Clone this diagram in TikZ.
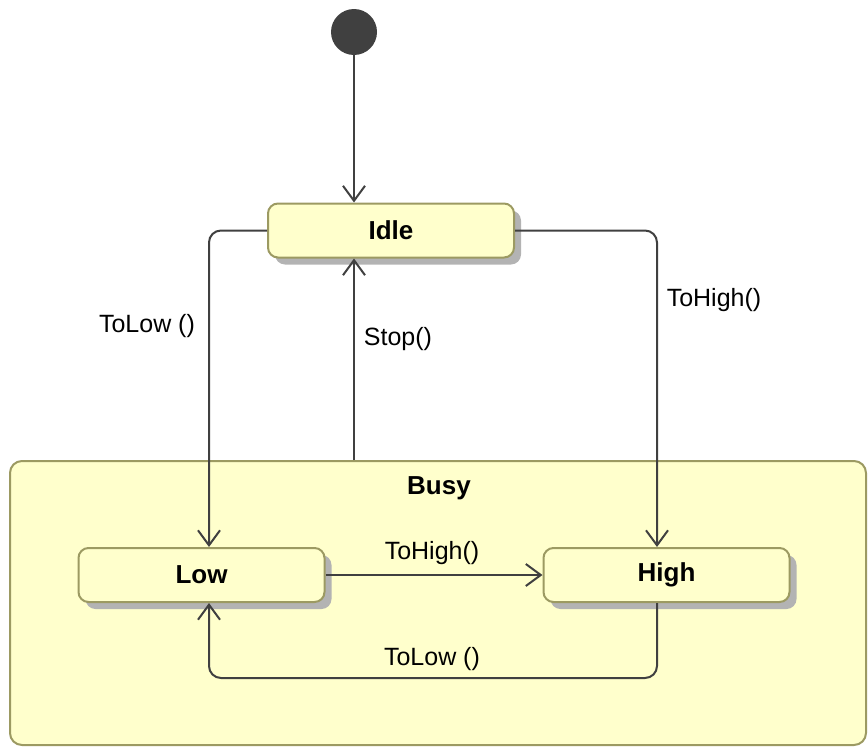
\documentclass[tikz,border=0pt]{standalone}
\usepackage{fontspec}
\setmainfont{Liberation Sans}
\usetikzlibrary{arrows.meta,shadows,calc}
\definecolor{stfill}{HTML}{FFFFCC}
\definecolor{stdraw}{HTML}{9C9A62}
\definecolor{lnc}{HTML}{404040}
\definecolor{shd}{HTML}{B3B3B3}
\tikzset{
  statebox/.style={draw=stdraw, line width=2pt, fill=stfill, rounded corners=10pt,
    minimum width=246pt, minimum height=54pt, inner sep=0pt,
    font=\fontsize{26}{30}\selectfont\bfseries,
    drop shadow={shadow xshift=7pt, shadow yshift=-7pt, fill=shd, opacity=1}},
  arr/.style={draw=lnc, line width=2pt, rounded corners=12pt,
    -{Straight Barb[length=15pt,width=22pt,line width=2pt]}},
  lbl/.style={font=\fontsize{25}{29}\selectfont, inner sep=0pt}
}
\begin{document}
\begin{tikzpicture}[x=1pt,y=-1pt]
\useasboundingbox (0,0) rectangle (868,747);
% Busy composite state
\node[draw=stdraw, line width=2pt, fill=stfill, rounded corners=12pt,
  minimum width=856pt, minimum height=284pt, inner sep=0pt] (Busy) at (438,603) {};
\node[lbl, font=\fontsize{26}{30}\selectfont\bfseries] (busylbl) at (439,488) {Busy};
% initial
\node[circle, fill=lnc, minimum size=46pt, inner sep=0pt] (init) at (354,32) {};
% states
\node[statebox] (Idle) at (391,230.5) {Idle};
\node[statebox] (Low) at (201.5,575) {Low};
\node[statebox] (High) at (666.5,575) {High};
\coordinate (bot) at (432,678);
% transitions
\draw[arr] (init.south) -- (init.south |- Idle.north);
\draw[arr] (Idle.west) -| ([xshift=7.5pt]Low.north);
\draw[arr] (Idle.east) -| ([xshift=-9.5pt]High.north);
\draw[arr] (Busy.north -| init) -- (Idle.south -| init);
\draw[arr] (Low.east) -- (High.west);
\draw[arr] ([xshift=-9.5pt]High.south) |- (bot) -| ([xshift=7.5pt]Low.south);
% labels
\node[lbl] (l1) at (147,326) {ToLow ()};
\node[lbl] (l2) at (398,339) {Stop()};
\node[lbl] (l3) at (714,300) {ToHigh()};
\node[lbl] (l4) at (432,553) {ToHigh()};
\node[lbl] (l5) at (432,659) {ToLow ()};
\end{tikzpicture}
\end{document}
